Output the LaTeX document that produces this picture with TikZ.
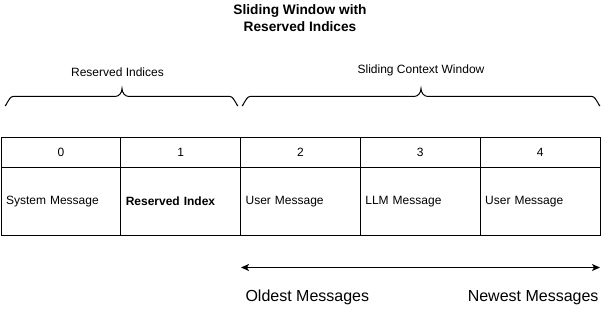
\documentclass[tikz,border=0pt]{standalone}
\usepackage{fontspec}
\setmainfont{Liberation Sans}
\usetikzlibrary{arrows.meta}
\begin{document}
\begin{tikzpicture}[x=1pt,y=-1pt,
  line width=1pt,
  numcell/.style={draw, rectangle, minimum width=119.8pt, minimum height=30pt, inner sep=0pt, font=\fontsize{12}{14}\selectfont},
  msgcell/.style={draw, rectangle, minimum width=119.8pt, minimum height=67.5pt, inner xsep=5pt, inner ysep=0pt, text width=109.8pt, align=left, font=\fontsize{12}{14}\selectfont},
  lbl/.style={inner sep=0pt, anchor=base, font=\fontsize{12}{14}\selectfont},
  biglbl/.style={inner sep=0pt, font=\fontsize{16}{19}\selectfont},
  bracepath/.style={line width=1pt},
  arr/.style={{Stealth[length=8pt,width=7pt,inset=2pt]}-{Stealth[length=8pt,width=7pt,inset=2pt]}}
]
\useasboundingbox (0,0) rectangle (610,310);

% title
\node[inner sep=0pt, anchor=base, align=center, font=\fontsize{13.7}{16.7}\selectfont\bfseries] (title) at (300,31.7) {Sliding Window with\\Reserved Indices};

% brace labels
\node[lbl] (lres) at (117.5,76.7) {Reserved Indices};
\node[lbl] (lslide) at (421,74) {Sliding Context Window};

% braces
\draw[bracepath] (5,105) to[out=-90,in=180] (13,96.5) -- (115,96.5) to[out=0,in=-90] (122,88.5) to[out=-90,in=180] (129,96.5) -- (230,96.5) to[out=0,in=-90] (238,105);
\draw[bracepath] (242,105) to[out=-90,in=180] (250,96.5) -- (414,96.5) to[out=0,in=-90] (421,88.5) to[out=-90,in=180] (428,96.5) -- (592,96.5) to[out=0,in=-90] (600,105);

% table
\node[numcell] (c0) at (60.9,152.5) {0};
\node[numcell] (c1) at (180.7,152.5) {1};
\node[numcell] (c2) at (300.5,152.5) {2};
\node[numcell] (c3) at (420.3,152.5) {3};
\node[numcell] (c4) at (540.1,152.5) {4};

\node[msgcell] (m0) at (60.9,201.25) {System Message};
\node[msgcell] (m1) at (180.7,201.25) {\bfseries Reserved Index};
\node[msgcell] (m2) at (300.5,201.25) {User Message};
\node[msgcell] (m3) at (420.3,201.25) {LLM Message};
\node[msgcell] (m4) at (540.1,201.25) {User Message};

% arrow
\coordinate (a1) at (241,267.5);
\coordinate (a2) at (600,267.5);
\draw[arr] (a1) -- (a2);

\node[biglbl, anchor=base west] (old) at (245,301) {Oldest Messages};
\node[biglbl, anchor=base east] (new) at (599,301) {Newest Messages};
\end{tikzpicture}
\end{document}
